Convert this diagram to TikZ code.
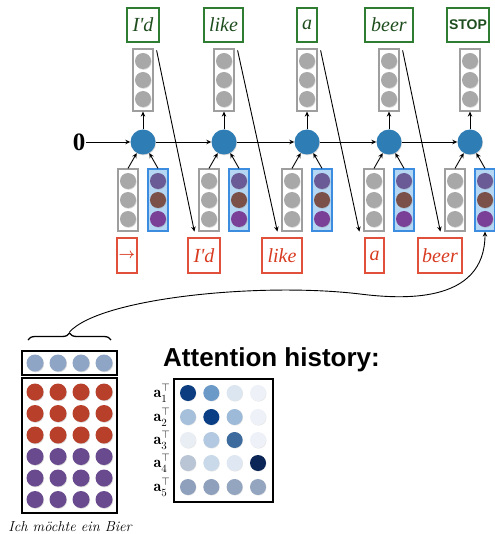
\documentclass[tikz,border=0pt]{standalone}
\usepackage{fontspec}
\usepackage{amsmath}
\newfontfamily\timesf{Liberation Serif}
\newfontfamily\helv{Liberation Sans}
\usetikzlibrary{arrows.meta,calc,shadows,decorations.pathreplacing}
\definecolor{hidblue}{HTML}{2E7DB5}
\definecolor{grayc}{HTML}{A8A8A8}
\definecolor{grayline}{HTML}{9E9E9E}
\definecolor{bfill}{HTML}{B6D7F3}
\definecolor{bline}{HTML}{3C8CE0}
\definecolor{pc1}{HTML}{6A5A96}
\definecolor{pc2}{HTML}{7A5048}
\definecolor{pc3}{HTML}{7A3F96}
\definecolor{gline}{HTML}{2F7D32}
\definecolor{gtext}{HTML}{1E4D1E}
\definecolor{rline}{HTML}{E0503A}
\definecolor{rtext}{HTML}{D83A20}
\definecolor{encred}{HTML}{B8402A}
\definecolor{encpur}{HTML}{6A4A8E}
\definecolor{encsum}{HTML}{8FA5C5}
\begin{document}
\begin{tikzpicture}[x=1pt,y=-1pt,
  >={Stealth[length=5pt,width=4.5pt]},
  conn/.style={->,line width=0.9pt},
  hid/.style={circle,fill=hidblue,minimum size=25pt,inner sep=0pt,
    drop shadow={shadow xshift=0.6pt,shadow yshift=-0.8pt,opacity=0.3}},
  gstack/.style={rectangle,draw=grayline,line width=1.2pt,fill=white,minimum width=20pt,minimum height=62pt,inner sep=0pt},
  bstack/.style={rectangle,draw=bline,line width=1.2pt,fill=bfill,minimum width=20pt,minimum height=62pt,inner sep=0pt},
  dot/.style={circle,minimum size=16pt,inner sep=0pt,
    drop shadow={shadow xshift=0.6pt,shadow yshift=-0.8pt,opacity=0.3}},
  gword/.style={rectangle,draw=gline,line width=1.1pt,text=gtext,minimum height=34pt,inner sep=0pt,font=\timesf\itshape\fontsize{20}{22}\selectfont},
  rword/.style={rectangle,draw=rline,line width=1.1pt,text=rtext,minimum height=35pt,inner sep=0pt,font=\timesf\itshape\fontsize{20}{22}\selectfont},
  encbox/.style={rectangle,draw=black,line width=2pt,inner sep=0pt,minimum width=95pt},
  encdot/.style={circle,minimum size=17pt,inner sep=0pt,
    drop shadow={shadow xshift=0.6pt,shadow yshift=-0.8pt,opacity=0.3}},
  attdot/.style={circle,minimum size=16pt,inner sep=0pt,
    drop shadow={shadow xshift=0.5pt,shadow yshift=-0.6pt,opacity=0.2}},
  alab/.style={inner sep=0pt,font=\fontsize{16}{18}\selectfont}
]
\useasboundingbox (0,0) rectangle (494,534);

% hidden states, output stacks, input stacks
\foreach \i/\x in {1/143,2/224,3/307,4/389,5/470} {
  \node[hid] (h\i) at (\x,142) {};
  \node[gstack] (u\i) at (\x,80) {};
  \foreach \j/\y in {1/-19,2/0,3/19}
    \node[dot,fill=grayc] (u\i c\j) at ($(u\i)+(0,\y)$) {};
  \node[gstack] (g\i) at ($(\x,200)+(-15,0)$) {};
  \foreach \j/\y in {1/-19,2/0,3/19}
    \node[dot,fill=grayc] (g\i c\j) at ($(g\i)+(0,\y)$) {};
  \node[bstack] (b\i) at ($(\x,200)+(15,0)$) {};
  \node[dot,fill=pc1] (b\i c1) at ($(b\i)+(0,-19)$) {};
  \node[dot,fill=pc2] (b\i c2) at ($(b\i)+(0,0)$) {};
  \node[dot,fill=pc3] (b\i c3) at ($(b\i)+(0,19)$) {};
  \draw[conn] (h\i) -- (u\i);
  \draw[conn] (g\i.north) -- (h\i);
  \draw[conn] (b\i.north) -- (h\i);
}

\node[font=\timesf\bfseries\fontsize{25}{27}\selectfont,inner sep=1pt] (zero) at (79,142) {0};
\draw[conn] (zero) -- (h1);
\foreach \i/\j in {1/2,2/3,3/4,4/5} \draw[conn] (h\i) -- (h\j);

% output words
\node[gword,minimum width=32pt] (o1) at (143,25) {I'd};
\node[gword,minimum width=39pt] (o2) at (223.5,25) {like};
\node[gword,minimum width=20pt] (o3) at (307,25) {a};
\node[gword,minimum width=48pt] (o4) at (389,25) {beer};
\node[gword,minimum width=42pt,font=\helv\bfseries\fontsize{14}{16}\selectfont] (o5) at (468,25) {STOP};

% input words
\node[rword,minimum width=20pt,font=\fontsize{14}{16}\selectfont] (i1) at (127,255.5) {$\boldsymbol{\rightarrow}$};
\node[rword,minimum width=32pt] (i2) at (204,255.5) {I'd};
\node[rword,minimum width=40pt] (i3) at (282,255.5) {like};
\node[rword,minimum width=19pt] (i4) at (374.5,255.5) {a};
\node[rword,minimum width=44pt] (i5) at (440,255.5) {beer};

% feeding previous output to next input
\foreach \i/\j in {1/2,2/3,3/4,4/5}
  \draw[conn] ($(u\i.north east)+(3,2)$) -- ($(g\j.south west)+(-4,0)$);

% encoder matrix
\node[encbox,minimum height=24pt] (sum) at (69.5,363) {};
\foreach \k/\x in {1/35,2/58,3/81,4/104}
  \node[encdot,fill=encsum] (s\k) at (\x,363) {};
\node[encbox,minimum height=135pt] (enc) at (69.5,445.5) {};
\foreach \k/\x in {1/35,2/58,3/81,4/104} {
  \foreach \r/\y in {1/392,2/413.5,3/435}
    \node[encdot,fill=encred] (e\r\k) at (\x,\y) {};
  \foreach \r/\y in {4/456.5,5/478,6/499.5}
    \node[encdot,fill=encpur] (e\r\k) at (\x,\y) {};
}
\node[font=\itshape\fontsize{14.5}{16}\selectfont,inner sep=0pt] (cap) at (70,527) {Ich möchte ein Bier};

% brace and curved arrow
\draw[decorate,decoration={brace,amplitude=7pt},line width=1.3pt] (28,340) -- (111,340);
\coordinate (bt) at (69.5,332);
\draw[conn] (bt) .. controls (100,298) and (260,282) .. (360,294)
  .. controls (400,299) and (485,305) .. (b5.south);

% attention history
\node[anchor=west,font=\helv\bfseries\fontsize{26}{28}\selectfont,inner sep=0pt] (title) at (163,360) {Attention history:};
\node[rectangle,draw=black,line width=2pt,minimum width=99pt,minimum height=123pt,inner sep=0pt] (att) at (223.5,440.5) {};
\foreach \r/\y/\ca/\cb/\cc/\cd in {
  1/393/0B3D80/6C9AC8/DCE6F1/EEF2F8,
  2/417/A6C0DC/0B3F85/9DBBD9/EEF2F8,
  3/440/E9EEF4/B2C9E1/3D6B9D/EEF2F8,
  4/463/B9C5D4/C9D9EA/DFE8F2/0A2556,
  5/487/8FA0BD/8FA0BD/94A5C0/94A5C0} {
  \definecolor{atta}{HTML}{\ca}
  \definecolor{attb}{HTML}{\cb}
  \definecolor{attc}{HTML}{\cc}
  \definecolor{attd}{HTML}{\cd}
  \node[attdot,fill=atta] (a\r1) at (188,\y) {};
  \node[attdot,fill=attb] (a\r2) at (211.3,\y) {};
  \node[attdot,fill=attc] (a\r3) at (234.6,\y) {};
  \node[attdot,fill=attd] (a\r4) at (258,\y) {};
  \node[alab] (l\r) at (162,\y) {$\mathbf{a}_{\r}^{\top}$};
}
\end{tikzpicture}
\end{document}
